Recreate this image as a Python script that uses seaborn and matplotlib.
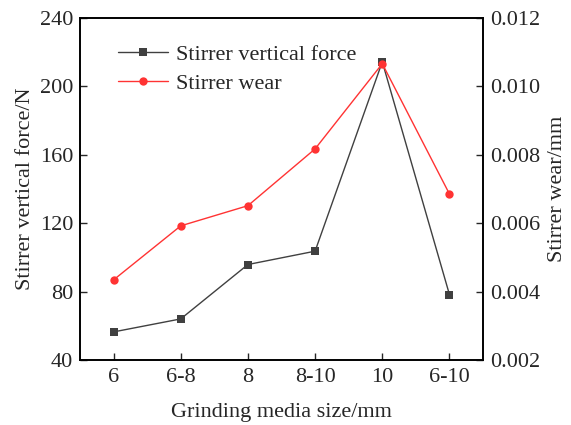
import matplotlib
matplotlib.use("Agg")
import matplotlib.pyplot as plt
import seaborn as sns
import pandas as pd

sizes = ["6", "6-8", "8", "8-10", "10", "6-10"]
vertical_force = [56.4, 64.0, 95.8, 103.6, 214.3, 78.2]
wear = [0.00434, 0.00592, 0.00651, 0.00817, 0.01066, 0.00685]

sns.set_style("ticks")
plt.rcParams['font.family'] = ['Liberation Serif', 'DejaVu Serif']
plt.rcParams['xtick.direction'] = 'in'
plt.rcParams['ytick.direction'] = 'in'

df = pd.DataFrame({"size": sizes, "force": vertical_force, "wear": wear, "pos": range(len(sizes))})

fig = plt.figure(figsize=(5.71, 4.25), dpi=100)
ax = fig.add_axes([0.140, 0.153, 0.706, 0.805])
ax2 = ax.twinx()

sns.lineplot(data=df, x="pos", y="force", ax=ax, color="#404040", marker="s",
             markersize=6, markeredgewidth=0, linewidth=1, label="Stirrer vertical force", legend=False)
sns.lineplot(data=df, x="pos", y="wear", ax=ax2, color="#ff3333", marker="o",
             markersize=6, markeredgewidth=0, linewidth=1, label="Stirrer wear", legend=False)

ax.set_xlim(-0.5, 5.5)
ax.set_ylim(40, 240)
ax.set_yticks([40, 80, 120, 160, 200, 240])
ax2.set_ylim(0.002, 0.012)
ax2.set_yticks([0.002, 0.004, 0.006, 0.008, 0.010, 0.012])
ax2.set_yticklabels(["0.002", "0.004", "0.006", "0.008", "0.010", "0.012"])
ax.set_xticks(range(len(sizes)))
ax.set_xticklabels(sizes)

fs = 16
ax.tick_params(axis='x', labelsize=fs, direction='in', length=5, width=1, top=False, pad=6)
ax.tick_params(axis='y', labelsize=fs, direction='in', length=5, width=1, pad=5)
ax2.tick_params(axis='y', labelsize=fs, direction='in', length=5, width=1, pad=5)
ax.set_xlabel("Grinding media size/mm", fontsize=fs, labelpad=11)
ax.set_ylabel("Stirrer vertical force/N", fontsize=fs, labelpad=3)
ax2.set_ylabel("Stirrer wear/mm", fontsize=fs, labelpad=6)
for a in (ax, ax2):
    for s in a.spines.values():
        s.set_linewidth(1.2)
        s.set_color("black")

h1, l1 = ax.get_legend_handles_labels()
h2, l2 = ax2.get_legend_handles_labels()
ax.legend(h1 + h2, l1 + l2, loc="upper left", bbox_to_anchor=(0.045, 0.98), frameon=False,
          fontsize=fs, handlelength=2.25, handletextpad=0.36, labelspacing=0.35)

fig.savefig("out.png", dpi=100)
